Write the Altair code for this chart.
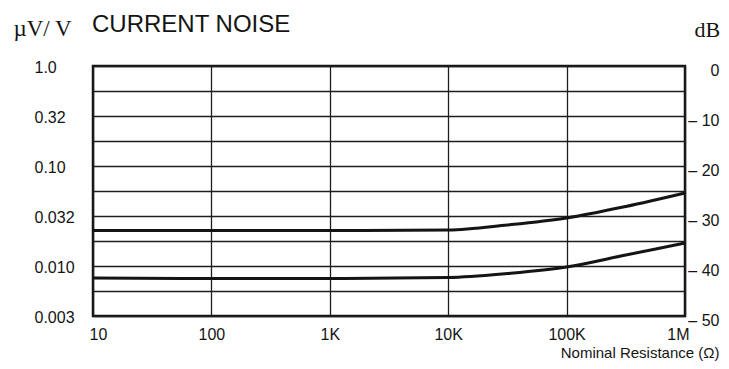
import altair as alt
import pandas as pd

# ---- data ----
resistance = [10, 100, 1000, 10000, 31623, 100000, 316228, 1000000]
upper_db = [-32.9, -32.9, -32.9, -32.8, -31.8, -30.4, -28.1, -25.4]
lower_db = [-42.4, -42.5, -42.5, -42.3, -41.5, -40.2, -37.8, -35.4]

x_ticks = [10, 100, 1000, 10000, 100000, 1000000]
x_labels = ["10", "100", "1K", "10K", "100K", "1M"]
db_ticks = [0, -10, -20, -30, -40, -50]
left_labels = ["1.0", "0.32", "0.10", "0.032", "0.010", "0.003"]
right_labels = ["0", "\u2013 10", "\u2013 20", "\u2013 30", "\u2013 40", "\u2013 50"]
grid_db = [0, -5, -10, -15, -20, -25, -30, -35, -40, -45, -50]
chart_title = ["CURRENT NOISE"]

df = pd.DataFrame(
    {
        "R": resistance * 2,
        "dB": upper_db + lower_db,
        "series": ["upper"] * len(resistance) + ["lower"] * len(resistance),
    }
)
title_df = pd.DataFrame({"t": chart_title})


def label_expr(values, labels):
    s = "''"
    for v, l in reversed(list(zip(values, labels))):
        s = f"datum.value == {v} ? '{l}' : ({s})"
    return s


SANS = "Liberation Sans, Arial, Helvetica, sans-serif"
SERIF = "Liberation Serif, Times New Roman, serif"
INK = "#141414"

x_enc = alt.X(
    "R:Q",
    scale=alt.Scale(type="log", domain=[10, 1000000], nice=False),
    axis=alt.Axis(
        values=x_ticks,
        labelExpr=label_expr(x_ticks, x_labels),
        grid=True,
        ticks=False,
        tickSize=0,
        domain=False,
        labelFlush=True,
        labelFlushOffset=4,
        labelPadding=10,
        labelFontSize=16,
        labelFont=SANS,
        labelColor=INK,
        title="Nominal Resistance (\u03a9)",
        titleFont=SANS,
        titleFontSize=15,
        titleFontWeight="normal",
        titleColor=INK,
        titleAlign="right",
        titleBaseline="middle",
        titleX=626,
        titleY=36,
    ),
)

yscale = alt.Scale(domain=[-50, 0], nice=False, zero=False)

left = (
    alt.Chart(df)
    .transform_filter(alt.datum.series == "upper")
    .mark_line(color=INK, strokeWidth=3, interpolate="monotone")
    .encode(
        x=x_enc,
        y=alt.Y(
            "dB:Q",
            scale=yscale,
            axis=alt.Axis(
                orient="left",
                values=grid_db,
                labelExpr=label_expr(db_ticks, left_labels),
                grid=True,
                ticks=False,
                tickSize=0,
                domain=False,
                labelAlign="left",
                labelBaseline="middle",
                labelPadding=59,
                labelOffset=1,
                labelFontSize=16,
                labelFont=SANS,
                labelColor=INK,
                title="\u00b5V/ V",
                titleFont=SERIF,
                titleFontSize=23,
                titleFontWeight="normal",
                titleColor=INK,
                titleAngle=0,
                titleAlign="left",
                titleBaseline="alphabetic",
                titleX=-80,
                titleY=-31,
            ),
        ),
    )
)

right = (
    alt.Chart(df)
    .transform_filter(alt.datum.series == "lower")
    .mark_line(color=INK, strokeWidth=3, interpolate="monotone")
    .encode(
        x=x_enc,
        y=alt.Y(
            "dB:Q",
            scale=yscale,
            axis=alt.Axis(
                orient="right",
                values=grid_db,
                labelExpr=label_expr(db_ticks, right_labels),
                grid=False,
                ticks=False,
                tickSize=0,
                domain=False,
                labelAlign="right",
                labelBaseline="middle",
                labelPadding=34,
                labelOffset=4,
                labelFontSize=16,
                labelFont=SANS,
                labelColor=INK,
                title="dB",
                titleFont=SERIF,
                titleFontSize=22,
                titleFontWeight="normal",
                titleColor=INK,
                titleAngle=0,
                titleAlign="left",
                titleBaseline="alphabetic",
                titleX=9,
                titleY=-30,
            ),
        ),
    )
)

title_layer = (
    alt.Chart(title_df)
    .mark_text(
        align="left",
        baseline="alphabetic",
        font=SANS,
        fontSize=24,
        color=INK,
    )
    .encode(text="t:N", x=alt.value(-1), y=alt.value(-34))
)

chart = (
    alt.layer(left, right, title_layer)
    .resolve_scale(y="independent")
    .properties(
        width=592,
        height=250,
        autosize="none",
        padding={"left": 85, "top": 58, "right": 36, "bottom": 45},
        background="white",
    )
    .configure_view(stroke=INK, strokeWidth=2.5)
    .configure_axis(gridColor="#1e1e1e", gridWidth=1.3, gridOpacity=1)
)

chart.save("out.html", embed_options={"renderer": "svg", "actions": False})
